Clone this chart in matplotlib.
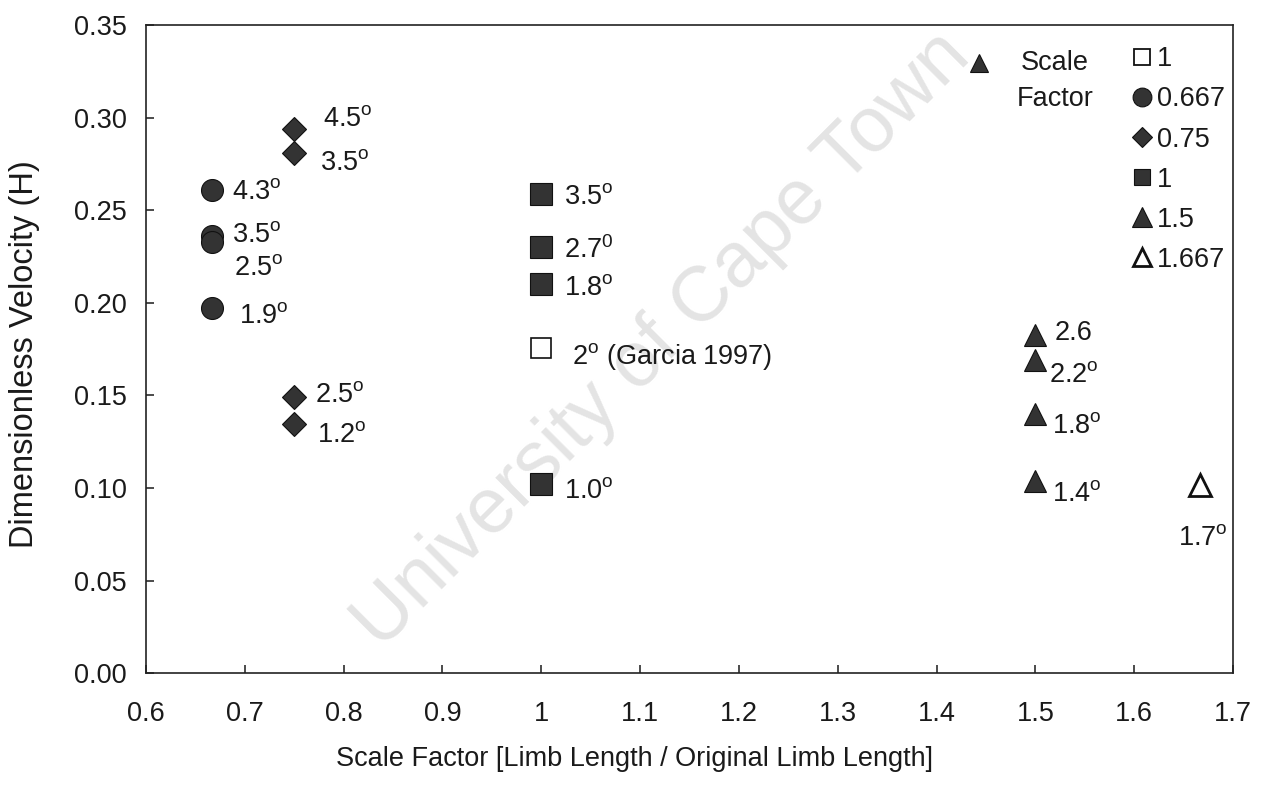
import matplotlib
matplotlib.use("Agg")
import matplotlib.pyplot as plt
from matplotlib.lines import Line2D

plt.rcParams['font.family'] = ['Liberation Sans', 'DejaVu Sans']
plt.rcParams['mathtext.fontset'] = 'custom'
plt.rcParams['mathtext.rm'] = 'Liberation Sans'
plt.rcParams['mathtext.it'] = 'Liberation Sans:italic'

DEG = r"$^{\mathrm{o}}$"
FS = 19.5

# ---- data: dimensionless velocity vs. scale factor, labelled by slope angle ----
sf_0667_x = [0.667, 0.667, 0.667, 0.667]
sf_0667_v = [0.261, 0.236, 0.233, 0.197]
sf_0667_lab = ["4.3" + DEG, "3.5" + DEG, "2.5" + DEG, "1.9" + DEG]

sf_075_x = [0.75, 0.75, 0.75, 0.75]
sf_075_v = [0.294, 0.281, 0.149, 0.1345]
sf_075_lab = ["4.5" + DEG, "3.5" + DEG, "2.5" + DEG, "1.2" + DEG]

sf_1_x = [1.0, 1.0, 1.0, 1.0]
sf_1_v = [0.259, 0.230, 0.210, 0.102]
sf_1_lab = ["3.5" + DEG, r"2.7$^{\mathrm{0}}$", "1.8" + DEG, "1.0" + DEG]

garcia_x = [1.0]
garcia_v = [0.1755]
garcia_lab = ["2" + DEG + " (Garcia 1997)"]

sf_15_x = [1.5, 1.5, 1.5, 1.5]
sf_15_v = [0.1826, 0.169, 0.140, 0.1037]
sf_15_lab = ["2.6", "2.2" + DEG, "1.8" + DEG, "1.4" + DEG]

sf_1667_x = [1.667]
sf_1667_v = [0.1015]
sf_1667_lab = ["1.7" + DEG]

legend_labels = ["1", "0.667", "0.75", "1", "1.5", "1.667"]

x_ticks = [0.6, 0.7, 0.8, 0.9, 1.0, 1.1, 1.2, 1.3, 1.4, 1.5, 1.6, 1.7]
x_tick_labels = ["0.6", "0.7", "0.8", "0.9", "1", "1.1", "1.2", "1.3", "1.4", "1.5", "1.6", "1.7"]
y_ticks = [0.0, 0.05, 0.10, 0.15, 0.20, 0.25, 0.30, 0.35]
y_tick_labels = ["0.00", "0.05", "0.10", "0.15", "0.20", "0.25", "0.30", "0.35"]

# label offsets (pixels) from each marker
off_0667 = [(20, -9), (20, -6), (22, -33), (27, -15)]
off_075 = [(29, 3), (26, -17), (21, -5), (23, -18)]
off_1 = [(23, -10), (23, -11), (23, -11), (23, -14)]
off_garcia = [(31, -16)]
off_15 = [(19, -5), (14, -22), (17, -19), (17, -20)]
off_1667 = [(-22, -60)]

FILL = '#333333'
EDGE = '#111111'

fig = plt.figure(figsize=(12.62, 7.95), dpi=100)
ax = fig.add_axes([0.1157, 0.1531, 0.8613, 0.8155])
ax.set_zorder(1)
ax.patch.set_alpha(0)

# watermark
fig.text(0.5245, 0.5725, "University of Cape Town", fontsize=56, color='#e4e4e4',
         rotation=45, ha='center', va='center', zorder=0)


def series(xs, vs, labels, offsets, **style):
    ax.plot(xs, vs, ls='none', **style)
    for x, v, t, (dx, dy) in zip(xs, vs, labels, offsets):
        ax.annotate(t, (x, v), xytext=(dx, dy), textcoords='offset pixels',
                    ha='left', va='baseline', fontsize=FS, color='#1a1a1a')


series(sf_0667_x, sf_0667_v, sf_0667_lab, off_0667,
       marker='o', ms=15.8, mfc=FILL, mec=EDGE, mew=0.8)
series(sf_075_x, sf_075_v, sf_075_lab, off_075,
       marker='D', ms=12.2, mfc=FILL, mec=EDGE, mew=0.8)
series(sf_1_x, sf_1_v, sf_1_lab, off_1,
       marker='s', ms=15.5, mfc=FILL, mec=EDGE, mew=0.8)
series(garcia_x, garcia_v, garcia_lab, off_garcia,
       marker='s', ms=14.5, mfc='white', mec=EDGE, mew=1.2)
series(sf_15_x, sf_15_v, sf_15_lab, off_15,
       marker='^', ms=16.5, mfc=FILL, mec=EDGE, mew=0.8)
series(sf_1667_x, sf_1667_v, sf_1667_lab, off_1667,
       marker='^', ms=16.0, mfc='white', mec=EDGE, mew=2.0)

ax.set_xlim(0.6, 1.7)
ax.set_ylim(0.0, 0.35)
ax.set_xticks(x_ticks)
ax.set_xticklabels(x_tick_labels)
ax.set_yticks(y_ticks)
ax.set_yticklabels(y_tick_labels)
ax.tick_params(direction='in', length=6, width=1.1, colors='#1a1a1a',
               labelsize=FS, top=False, right=False)
ax.tick_params(axis='x', pad=20)
ax.tick_params(axis='y', pad=14)
for sp in ax.spines.values():
    sp.set_linewidth(1.2)
    sp.set_color('#222222')

ax.set_xlabel("Scale Factor [Limb Length / Original Limb Length]", fontsize=FS, color='#1a1a1a')
ax.xaxis.set_label_coords(0.449, -0.1127)
ax.set_ylabel("Dimensionless Velocity (H)", fontsize=23.5, color='#1a1a1a')
ax.yaxis.set_label_coords(-0.0977, 0.492)

# key
handles = [
    Line2D([], [], ls='none', marker='s', ms=12, mfc='white', mec=EDGE, mew=1.3),
    Line2D([], [], ls='none', marker='o', ms=13.5, mfc=FILL, mec=EDGE, mew=0.8),
    Line2D([], [], ls='none', marker='D', ms=9.7, mfc=FILL, mec=EDGE, mew=0.8),
    Line2D([], [], ls='none', marker='s', ms=12.2, mfc=FILL, mec=EDGE, mew=0.8),
    Line2D([], [], ls='none', marker='^', ms=14, mfc=FILL, mec=EDGE, mew=0.8),
    Line2D([], [], ls='none', marker='^', ms=13.5, mfc='white', mec=EDGE, mew=2.0),
]
ax.legend(handles, legend_labels, loc='upper left', bbox_to_anchor=(0.9065, 0.967),
          frameon=False, borderpad=0, borderaxespad=0, handlelength=0.8,
          handletextpad=0.15, labelspacing=0.52, fontsize=FS, labelcolor='#1a1a1a')

ax.plot([0.7668], [0.9414], transform=ax.transAxes, ls='none', marker='^', ms=13,
        mfc=FILL, mec=EDGE, mew=0.8, clip_on=False)
ax.text(0.836, 0.9306, "Scale", transform=ax.transAxes, ha='center', va='baseline',
        fontsize=FS, color='#1a1a1a')
ax.text(0.836, 0.8750, "Factor", transform=ax.transAxes, ha='center', va='baseline',
        fontsize=FS, color='#1a1a1a')

fig.savefig("out.png", dpi=100)
